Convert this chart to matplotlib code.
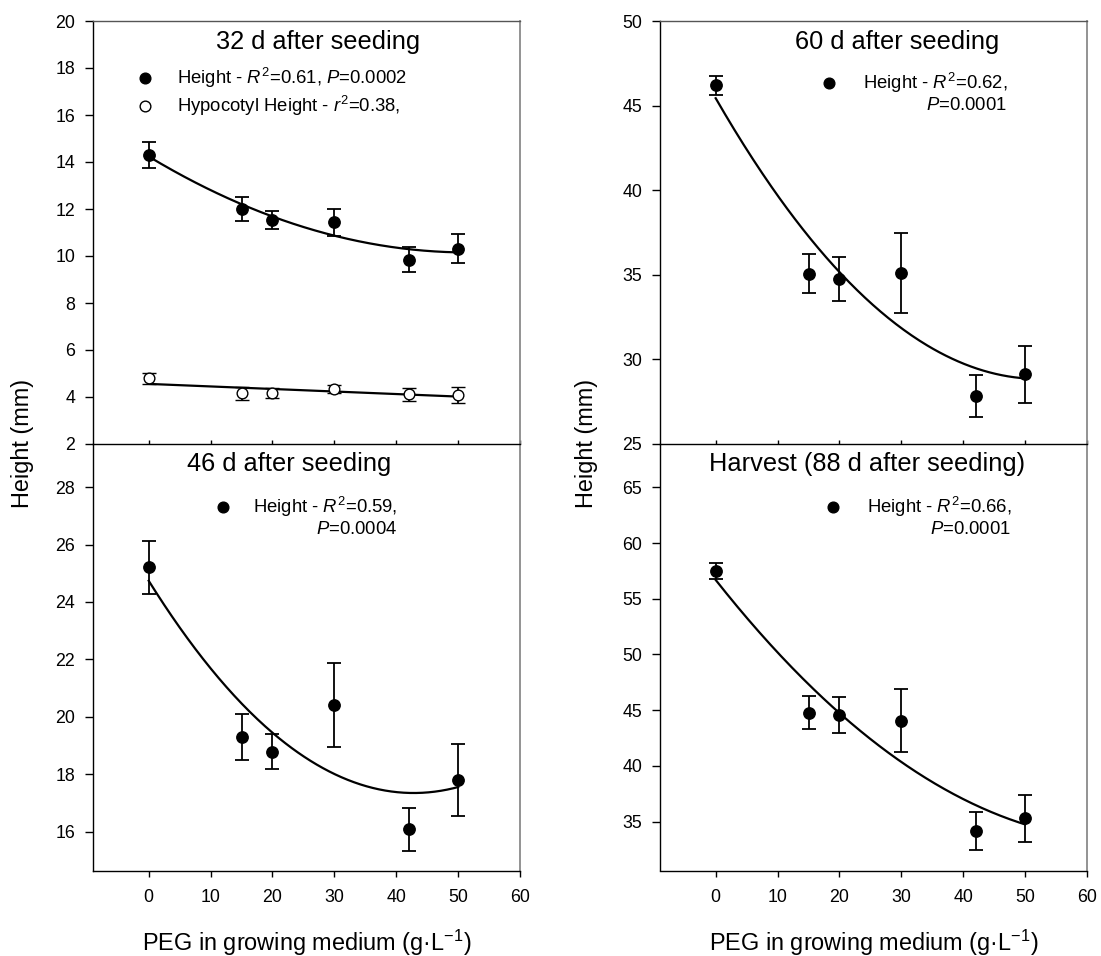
import numpy as np
import matplotlib
matplotlib.use("Agg")
import matplotlib.pyplot as plt

plt.rcParams['font.family'] = ['Liberation Sans', 'DejaVu Sans']
plt.rcParams['mathtext.fontset'] = 'custom'
plt.rcParams['mathtext.rm'] = 'Liberation Sans'
plt.rcParams['mathtext.it'] = 'Liberation Sans:italic'
plt.rcParams['mathtext.bf'] = 'Liberation Sans:bold'

# ---------------- data ----------------
peg = [0, 15, 20, 30, 42, 50]

h32 = [14.30, 12.02, 11.53, 11.43, 9.84, 10.31]
h32_err = [0.54, 0.51, 0.38, 0.56, 0.54, 0.62]
hyp32 = [4.79, 4.16, 4.16, 4.33, 4.12, 4.09]
hyp32_err = [0.25, 0.28, 0.22, 0.17, 0.28, 0.33]

h60 = [46.19, 35.05, 34.76, 35.11, 27.85, 29.12]
h60_err = [0.56, 1.15, 1.30, 2.36, 1.24, 1.70]

h46 = [25.20, 19.29, 18.79, 20.41, 16.08, 17.80]
h46_err = [0.91, 0.80, 0.62, 1.45, 0.74, 1.25]

h88 = [57.47, 44.78, 44.56, 44.05, 34.15, 35.30]
h88_err = [0.72, 1.47, 1.60, 2.85, 1.70, 2.10]

titles = ["32 d after seeding", "60 d after seeding",
          "46 d after seeding", "Harvest (88 d after seeding)"]
leg32 = ["Height - $R^2$=0.61, $P$=0.0002", "Hypocotyl Height - $r^2$=0.38,"]
leg60 = ["Height - $R^2$=0.62,", "$P$=0.0001"]
leg46 = ["Height - $R^2$=0.59,", "$P$=0.0004"]
leg88 = ["Height - $R^2$=0.66,", "$P$=0.0001"]
xlabel = "PEG in growing medium (g\u00b7L$^{-1}$)"
ylabel = "Height (mm)"
xticks = [0, 10, 20, 30, 40, 50, 60]

W, H = 1101, 956
fig = plt.figure(figsize=(W / 100, H / 100), dpi=100)


def fx(px):
    return px / W


def fy(py):
    return 1 - py / H


def make_ax(l, t, r, b):
    return fig.add_axes([fx(l), fy(b), fx(r) - fx(l), fy(t) - fy(b)])


ax_bl = make_ax(93, 444, 520, 870.5)
ax_br = make_ax(660, 444, 1087, 870.5)
ax_tl = make_ax(93, 21, 520, 444)
ax_tr = make_ax(660, 21, 1087, 444)

TICK_FS = 12.75
for ax, top in [(ax_tl, True), (ax_tr, True), (ax_bl, False), (ax_br, False)]:
    ax.set_xlim(-9, 60)
    ax.set_xticks(xticks)
    for s in ['left', 'bottom']:
        ax.spines[s].set_color('black')
        ax.spines[s].set_linewidth(1.0)
    ax.spines['right'].set_color('#8a8a8a')
    ax.spines['right'].set_linewidth(1.3)
    ax.spines['top'].set_color('#555555')
    ax.spines['top'].set_linewidth(1.0)
    ax.tick_params(axis='y', direction='out', length=5.8, width=1.0,
                   labelsize=TICK_FS, pad=7, right=False)
    if top:
        ax.patch.set_visible(False)
        ax.tick_params(axis='x', direction='in', length=3.2, width=1.0,
                       labelbottom=False, top=False)
    else:
        ax.spines['top'].set_visible(False)
        ax.tick_params(axis='x', direction='out', length=4, width=1.0,
                       labelsize=TICK_FS, pad=9.5, top=False)

ax_tl.set_ylim(2, 20)
ax_tl.set_yticks(np.arange(2, 21, 2))
ax_tr.set_ylim(25, 50)
ax_tr.set_yticks(np.arange(25, 51, 5))
ax_bl.set_ylim(14.65, 29.5)
ax_bl.set_yticks(np.arange(16, 29, 2))
ax_br.set_ylim(30.6, 68.9)
ax_br.set_yticks(np.arange(35, 66, 5))

MS = 8.2
eb_kw = dict(fmt='o', color='black', ms=MS, capsize=5.2, elinewidth=1.3,
             capthick=1.3, zorder=3)
xs = np.linspace(0, 50, 200)


def fit_line(ax, x, y, deg):
    c = np.polyfit(x, y, deg)
    ax.plot(xs, np.polyval(c, xs), color='black', lw=1.6, zorder=2)


# 32 d
ax_tl.errorbar(peg, h32, yerr=h32_err, **eb_kw)
fit_line(ax_tl, peg, h32, 2)
ax_tl.errorbar(peg, hyp32, yerr=hyp32_err, fmt='o', color='black', ms=MS - 0.5,
               mfc='white', mec='black', mew=1.0, capsize=5.2, elinewidth=1.3,
               capthick=1.3, zorder=3)
fit_line(ax_tl, peg, hyp32, 1)

# 60 d
ax_tr.errorbar(peg, h60, yerr=h60_err, **eb_kw)
fit_line(ax_tr, peg, h60, 2)

# 46 d
ax_bl.errorbar(peg, h46, yerr=h46_err, **eb_kw)
fit_line(ax_bl, peg, h46, 2)

# 88 d
ax_br.errorbar(peg, h88, yerr=h88_err, **eb_kw)
fit_line(ax_br, peg, h88, 2)

# titles
TITLE_FS = 18.3
fig.text(fx(318), fy(42), titles[0], fontsize=TITLE_FS, ha='center', va='center')
fig.text(fx(897), fy(42), titles[1], fontsize=TITLE_FS, ha='center', va='center')
fig.text(fx(289), fy(464), titles[2], fontsize=TITLE_FS, ha='center', va='center')
fig.text(fx(867), fy(464), titles[3], fontsize=TITLE_FS, ha='center', va='center')

# legends
LEG_FS = 13.3


def leg_marker(px, py, filled=True):
    fig.add_artist(plt.Line2D([fx(px)], [fy(py)], marker='o', ms=MS - 0.5,
                              mfc='black' if filled else 'white', mec='black',
                              mew=1.0, linestyle='none',
                              transform=fig.transFigure))


leg_marker(145, 78, True)
fig.text(fx(177), fy(78), leg32[0], fontsize=LEG_FS, ha='left', va='center')
leg_marker(145, 106, False)
fig.text(fx(177), fy(106), leg32[1], fontsize=LEG_FS, ha='left', va='center')

for (mx, my, tx_end, lines) in [(829, 83, 1007, leg60), (223, 507, 397, leg46),
                                (833, 507, 1011, leg88)]:
    leg_marker(mx, my, True)
    fig.text(fx(tx_end), fy(my), lines[0], fontsize=LEG_FS, ha='right', va='center')
    fig.text(fx(tx_end), fy(my + 23), lines[1], fontsize=LEG_FS, ha='right', va='center')

# axis labels
LAB_FS = 16.9
fig.text(fx(22), fy(443), ylabel, fontsize=LAB_FS, rotation=90, ha='center', va='center')
fig.text(fx(587), fy(443), ylabel, fontsize=LAB_FS, rotation=90, ha='center', va='center')
fig.text(fx(306.5), fy(943), xlabel, fontsize=LAB_FS, ha='center', va='center')
fig.text(fx(873.5), fy(943), xlabel, fontsize=LAB_FS, ha='center', va='center')

fig.savefig("out.png", dpi=100, facecolor='white')
